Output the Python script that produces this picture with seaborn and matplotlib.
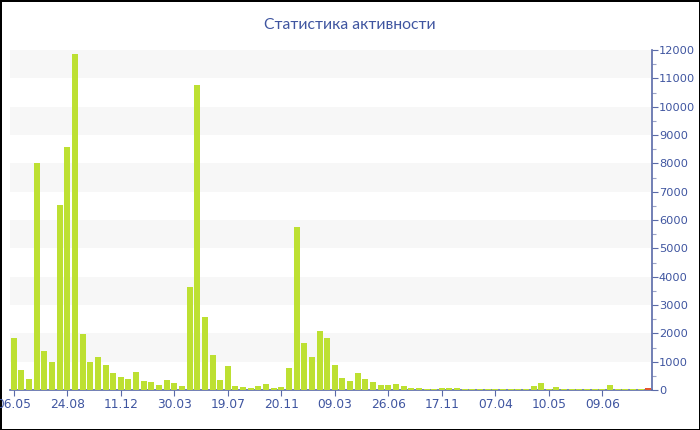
import matplotlib
matplotlib.use("Agg")
import matplotlib.pyplot as plt
import seaborn as sns
import pandas as pd
import numpy as np
from matplotlib.ticker import MultipleLocator

title = "Статистика активности"
values = [1850, 720, 380, 8000, 1370, 1000, 6530, 8570, 11850, 1960,
          990, 1150, 870, 590, 470, 400, 650, 330, 280, 190,
          350, 250, 140, 3650, 10780, 2560, 1250, 350, 850, 140,
          100, 70, 140, 200, 60, 100, 790, 5760, 1650, 1180,
          2090, 1840, 890, 420, 320, 590, 380, 280, 180, 170,
          210, 130, 60, 70, 50, 50, 60, 60, 70, 40,
          35, 35, 35, 45, 35, 35, 35, 35, 140, 240,
          25, 120, 35, 35, 35, 35, 35, 35, 165, 35,
          35, 35, 35, 70]
tick_labels = ["06.05", "24.08", "11.12", "30.03", "19.07", "20.11",
               "09.03", "26.06", "17.11", "07.04", "10.05", "09.06"]
tick_step = 7

green = "#bde032"
red = "#e5562c"
text_blue = "#3f55a0"
axis_blue = "#5a6aa8"

n = len(values)
df = pd.DataFrame({"idx": np.arange(n), "val": values,
                   "kind": ["normal"] * (n - 1) + ["last"]})

sns.set_theme(style="white")
plt.rcParams["font.family"] = ["DejaVu Sans"]

fig = plt.figure(figsize=(7.0, 4.3), dpi=100)
fig.patch.set_facecolor("white")
fig.patch.set_edgecolor("black")
fig.patch.set_linewidth(2)
ax = fig.add_axes([10 / 700, 40 / 430, 642 / 700, 340 / 430])

sns.barplot(data=df, x="idx", y="val", hue="kind", dodge=False,
            palette={"normal": green, "last": red}, width=0.79,
            saturation=1, linewidth=0, legend=False, ax=ax, zorder=3)

ymax = 12000
ax.set_ylim(0, ymax)
ax.set_xlim(-0.5, n - 0.5)
for lo in range(1000, ymax, 2000):
    ax.axhspan(lo, lo + 1000, color="#f7f7f7", zorder=0, linewidth=0)

ax.yaxis.tick_right()
ax.yaxis.set_major_locator(MultipleLocator(1000))
ax.yaxis.set_minor_locator(MultipleLocator(500))
ax.tick_params(axis="y", which="major", right=True, left=False, length=4,
               width=0.8, color=axis_blue, labelcolor=text_blue, labelsize=8.2, pad=1)
ax.tick_params(axis="y", which="minor", right=True, left=False, length=3,
               width=0.8, color="#9aa3c8")
ax.set_xticks(range(0, n, tick_step)[:len(tick_labels)])
ax.set_xticklabels(tick_labels)
ax.tick_params(axis="x", bottom=True, length=4, width=0.8, color=axis_blue,
               labelcolor=text_blue, labelsize=8.8, pad=2)

for s in ["left", "top"]:
    ax.spines[s].set_visible(False)
for s in ["right", "bottom"]:
    ax.spines[s].set_color(axis_blue)
    ax.spines[s].set_linewidth(1.2)
ax.set_xlabel("")
ax.set_ylabel("")
ax.grid(False)

fig.text(0.5, 1 - 25 / 430, title, ha="center", va="center",
         color=text_blue, fontsize=11.3, family=["Lato", "DejaVu Sans"])

fig.savefig("out.png", dpi=100, facecolor=fig.get_facecolor(),
            edgecolor=fig.get_edgecolor())
